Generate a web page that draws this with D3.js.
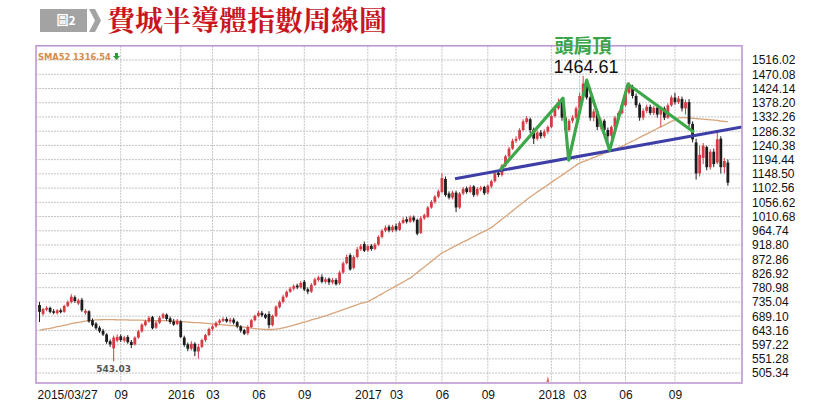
<!DOCTYPE html>
<html><head><meta charset="utf-8">
<script src="https://cdn.jsdelivr.net/npm/d3@7"></script>
<style>body{margin:0;background:#fff;} svg{display:block;}</style>
</head><body><svg id="c" width="814" height="413"></svg>
<script>
// ---- data (weekly candles, SOX index, from 2015/03/27) ----
const openV = [
725,696,710,716,705,699,708,703,722,735,
750,730,742,700,705,676,665,652,642,630,
608,585,610,624,610,622,606,598,620,640,
660,672,686,652,668,684,694,682,672,664,
672,620,598,584,600,575,590,612,628,648,
656,668,674,680,672,678,670,656,644,634,
654,676,690,700,694,696,660,690,718,735,
752,768,778,788,782,800,776,768,790,806,
816,800,810,798,806,795,830,860,886,845,
880,905,922,902,916,906,920,945,965,978,
966,980,968,990,1002,994,1008,1000,958,1005,
1010,1040,1058,1075,1090,1132,1085,1072,1088,1040,
1085,1102,1090,1108,1082,1098,1106,1088,1108,1125,
1152,1145,1175,1205,1230,1255,1262,1290,1316,1325,
1292,1262,1282,1270,1285,1300,1335,1360,1380,1330,
1290,1320,1330,1360,1400,1440,1395,1330,1350,1300,
1320,1290,1272,1300,1330,1345,1370,1410,1428,1400,
1372,1330,1352,1365,1345,1362,1340,1360,1330,1370,
1395,1380,1390,1360,1380,1310,1250,1150,1200,1235,
1170,1220,1185,1262,1170,1185];
const highV = [
735,716,722,720,712,712,714,726,740,760,
756,746,748,712,708,682,670,658,648,634,
614,626,630,630,626,628,612,624,645,666,
678,690,690,674,690,700,698,688,680,680,
676,626,604,608,605,600,616,632,652,662,
672,680,686,686,684,684,674,660,648,660,
680,694,706,706,698,705,694,724,740,758,
772,784,792,794,802,806,782,796,814,820,
824,814,814,812,812,836,866,888,892,886,
912,922,930,920,922,926,950,970,982,984,
984,988,996,1008,1010,1014,1014,1004,1012,1020,
1045,1064,1080,1098,1150,1140,1092,1094,1094,1090,
1106,1108,1112,1112,1106,1110,1110,1114,1130,1155,
1160,1180,1210,1236,1262,1270,1296,1325,1335,1330,
1298,1288,1290,1292,1305,1340,1368,1392,1390,1340,
1326,1338,1366,1410,1464.61,1450,1400,1358,1356,1328,
1325,1298,1305,1336,1350,1376,1418,1445,1436,1408,
1378,1360,1372,1372,1368,1370,1366,1366,1376,1402,
1410,1400,1398,1388,1390,1318,1262,1240,1248,1240,
1228,1230,1285,1270,1200,1195];
const lowV = [
670,690,705,698,695,694,698,700,718,730,
732,725,703,694,668,655,645,635,625,600,
590,543.03,604,606,604,600,586,594,616,636,
656,668,646,648,664,680,674,664,658,660,
618,590,576,578,560,552,586,606,624,642,
652,662,670,668,666,662,650,636,628,628,
650,672,686,686,680,650,656,686,714,730,
748,764,772,776,778,770,760,764,786,800,
795,794,790,792,788,790,826,856,836,840,
876,900,896,896,900,902,916,940,960,960,
960,962,964,986,988,990,992,950,954,1000,
1006,1036,1052,1070,1086,1075,1066,1066,1025,1035,
1080,1084,1086,1074,1076,1092,1080,1082,1102,1120,
1138,1140,1170,1200,1226,1248,1256,1286,1310,1280,
1245,1256,1262,1264,1278,1296,1330,1355,1320,1265,
1284,1312,1324,1355,1396,1388,1320,1318,1290,1292,
1280,1245,1262,1296,1322,1340,1366,1405,1392,1362,
1320,1322,1345,1338,1338,1330,1300,1322,1326,1365,
1372,1374,1350,1340,1300,1250,1130,1140,1180,1160,
1162,1170,1180,1150,1150,1110];
const closeV = [
703,712,716,703,700,708,702,722,735,752,
738,740,708,706,672,660,650,640,630,606,
598,620,622,612,620,605,596,620,640,662,
672,684,650,668,684,695,680,670,662,674,
622,596,584,600,575,590,612,628,648,656,
668,675,680,672,678,668,656,642,632,654,
676,690,700,692,684,660,690,720,735,752,
768,778,786,782,796,775,768,790,808,814,
800,808,798,806,792,830,860,880,840,880,
905,915,900,915,906,920,945,965,975,966,
978,968,990,1000,994,1008,998,955,1005,1015,
1040,1058,1075,1092,1135,1080,1072,1088,1040,1085,
1100,1090,1106,1080,1100,1104,1086,1110,1125,1150,
1145,1175,1205,1230,1255,1262,1290,1318,1328,1290,
1262,1282,1270,1285,1300,1335,1360,1380,1330,1290,
1320,1330,1360,1400,1440,1395,1330,1350,1300,1320,
1290,1270,1300,1330,1345,1370,1410,1430,1400,1370,
1330,1352,1365,1345,1362,1340,1360,1330,1370,1395,
1380,1392,1360,1380,1310,1260,1150,1210,1240,1170,
1220,1180,1260,1170,1190,1120];
const sma52 = [
644,646,648,650,652,655,657,660,662,665,667,669,671,673,675,
676,677,677,678,678,678,678,677,677,677,677,676,676,676,676,675,675,675,675,675,675,674,674,673,673,
672,671,670,669,668,668,667,666,665,664,663,662,661,660,659,658,657,655,654,652,651,649,648,
647,646,646,646,647,649,651,654,
657,660,663,667,670,673,677,680,683,687,690,694,698,702,706,710,714,718,722,726,730,733,736,
742,748,755,761,768,774,780,787,793,799,806,812,
821,830,839,848,857,866,875,884,893,
899,905,911,917,923,929,934,940,946,952,958,963,969,975,
984,993,1002,1011,1020,1029,1038,1047,1056,1065,1074,
1082,1090,1098,1105,1113,1121,1129,1137,1144,1152,1160,1168,1176,1183,
1188,1192,1197,1201,1206,1210,1215,1219,1224,1228,1233,1237,
1243,1249,1254,1260,1266,1272,1277,1283,1289,1295,1300,1306,1312,1318,1323,1329,
1330,1330,1329,1328,1327,1326,1325,1324,1323,1322,1321,1319,1318,1316.54];

const yTicks = [1516.02,1470.08,1424.14,1378.20,1332.26,1286.32,1240.38,1194.44,1148.50,1102.56,1056.62,1010.68,964.74,918.80,872.86,826.92,780.98,735.04,689.10,643.16,597.22,551.28,505.34];
const xTickWeeks = [0,23,40,49,62,75,93,101,114,127,145,153,166,180];
const xTickLabels = ["2015/03/27","09","2016","03","06","09","2017","03","06","09","2018","03","06","09"];

// head-and-shoulders annotation (week index, value)
const hsWeeks = [130.5,148.3,149.9,155,161.5,166.7,185.4];
const hsVals  = [1161,1393,1193,1451,1225,1438,1283];
const necklineWeeks = [117.7,199];
const necklineVals  = [1133,1300];
const lowMarkWeek = 21, lowMarkVal = 543.03;
const headVal = 1464.61;

// ---- drawing ----
const svg = d3.select("#c");
const P = {left:36, right:742, top:45.8, bottom:383};
const x = d3.scaleLinear().domain([-1,199]).range([P.left,P.right]);
const y = d3.scaleLinear().domain([473.3,1561.96]).range([P.bottom,P.top]);

svg.append("rect").attr("width",814).attr("height",413).attr("fill","#fff");

// title
svg.append("rect").attr("x",40).attr("y",9).attr("width",47).attr("height",23).attr("fill","#a3a3a3");
svg.append("text").attr("x",66).attr("y",25).attr("text-anchor","middle")
  .attr("font-family","'Noto Sans CJK TC',sans-serif").attr("font-size",12).attr("font-weight","bold")
  .attr("fill","#fff").text("圖2");
svg.append("polygon").attr("points","89,9 95,9 101,20.5 95,32 89,32 95,20.5").attr("fill","#a3a3a3");
svg.append("text").attr("x",107).attr("y",31)
  .attr("font-family","'Noto Serif CJK TC','Noto Sans CJK TC',serif").attr("font-size",28).attr("font-weight","bold")
  .attr("fill","#c8161d").text("費城半導體指數周線圖");

// grid
const g = svg.append("g");
g.selectAll("line.h").data(yTicks).enter().append("line")
  .attr("x1",P.left).attr("x2",P.right).attr("y1",d=>y(d)).attr("y2",d=>y(d))
  .attr("stroke","#c4c4c4").attr("stroke-width",1).attr("stroke-dasharray","2,1");
g.selectAll("line.v").data(xTickWeeks.slice(1)).enter().append("line")
  .attr("x1",d=>x(d)).attr("x2",d=>x(d)).attr("y1",P.top).attr("y2",P.bottom)
  .attr("stroke","#c4c4c4").attr("stroke-width",1).attr("stroke-dasharray","2,1");

// axes
const yAxis = d3.axisRight(y).tickValues(yTicks).tickFormat(d=>d.toFixed(2)).tickSize(0).tickPadding(10);
const ya = svg.append("g").attr("transform",`translate(${P.right},0)`).call(yAxis);
ya.select(".domain").remove();
ya.selectAll("text").attr("font-family","'Liberation Sans',Arial,sans-serif").attr("font-size",12).attr("fill","#111");

const xAxis = d3.axisBottom(x).tickValues(xTickWeeks).tickFormat((d,i)=>xTickLabels[i]).tickSize(0).tickPadding(7);
const xa = svg.append("g").attr("transform",`translate(0,${P.bottom})`).call(xAxis);
xa.select(".domain").remove();
xa.selectAll("text").attr("font-family","'Liberation Sans',Arial,sans-serif").attr("font-size",12).attr("fill","#111");
xa.selectAll("text").filter((d,i)=>i===0).attr("text-anchor","start").attr("dx",-2.5);

// clip
svg.append("clipPath").attr("id","clip").append("rect")
  .attr("x",P.left).attr("y",P.top).attr("width",P.right-P.left).attr("height",P.bottom-P.top);
const plot = svg.append("g").attr("clip-path","url(#clip)");

// SMA52
plot.append("path").datum(sma52)
  .attr("d", d3.line().x((d,i)=>x(i)).y(d=>y(d)).curve(d3.curveMonotoneX))
  .attr("fill","none").attr("stroke","#d7a57c").attr("stroke-width",1.3);

// candles
const idx = d3.range(closeV.length);
const col = i => closeV[i] >= openV[i] ? "#d63b43" : "#1c1c1c";
plot.selectAll("line.wick").data(idx).enter().append("line")
  .attr("x1",i=>x(i)).attr("x2",i=>x(i)).attr("y1",i=>y(highV[i])).attr("y2",i=>y(lowV[i]))
  .attr("stroke",col).attr("stroke-width",1);
plot.selectAll("rect.body").data(idx).enter().append("rect")
  .attr("x",i=>x(i)-1.4).attr("width",2.8)
  .attr("y",i=>y(Math.max(openV[i],closeV[i])))
  .attr("height",i=>Math.max(1,Math.abs(y(openV[i])-y(closeV[i]))))
  .attr("fill",col);

// neckline and H&S pattern
plot.append("path").datum(d3.zip(necklineWeeks,necklineVals))
  .attr("d", d3.line().x(d=>x(d[0])).y(d=>y(d[1])))
  .attr("stroke","#3d3fa6").attr("stroke-width",3).attr("fill","none");
plot.append("path").datum(d3.zip(hsWeeks,hsVals))
  .attr("d", d3.line().x(d=>x(d[0])).y(d=>y(d[1])))
  .attr("stroke","#3da84a").attr("stroke-width",3.2).attr("fill","none").attr("stroke-linejoin","round");

// frame
svg.append("rect").attr("x",P.left).attr("y",P.top).attr("width",P.right-P.left).attr("height",P.bottom-P.top)
  .attr("fill","none").attr("stroke","#bf98cf").attr("stroke-width",1.6);

// small red marker near the bottom
svg.append("path").attr("d",`M${x(144)-1.5},${P.bottom-1} L${x(144)},${P.bottom-7} L${x(144)+1.5},${P.bottom-1} Z`)
  .attr("fill","#e07070");

// SMA legend
svg.append("text").attr("x",38).attr("y",60)
  .attr("font-family","'DejaVu Sans',Verdana,sans-serif").attr("font-size",8.3).attr("font-weight","bold")
  .attr("fill","#d88a4a").text("SMA52 " + sma52[sma52.length-1].toFixed(2));
svg.append("path").attr("d","M115,53 L118,53 L118,56 L120,56 L116.5,60 L113,56 L115,56 Z").attr("fill","#2f9a3a");

// annotations
svg.append("text").attr("x",x(lowMarkWeek)).attr("y",372).attr("text-anchor","middle")
  .attr("font-family","'DejaVu Sans',Verdana,sans-serif").attr("font-size",9).attr("font-weight","bold")
  .attr("fill","#555").text(lowMarkVal.toFixed(2));
svg.append("text").attr("x",583).attr("y",53).attr("text-anchor","middle")
  .attr("font-family","'Noto Sans CJK TC',sans-serif").attr("font-size",19).attr("font-weight","bold")
  .attr("fill","#3aa547").text("頭肩頂");
svg.append("text").attr("x",586).attr("y",73).attr("text-anchor","middle")
  .attr("font-family","'Liberation Sans',Arial,sans-serif").attr("font-size",18)
  .attr("fill","#111").text(headVal.toFixed(2));
</script></body></html>
